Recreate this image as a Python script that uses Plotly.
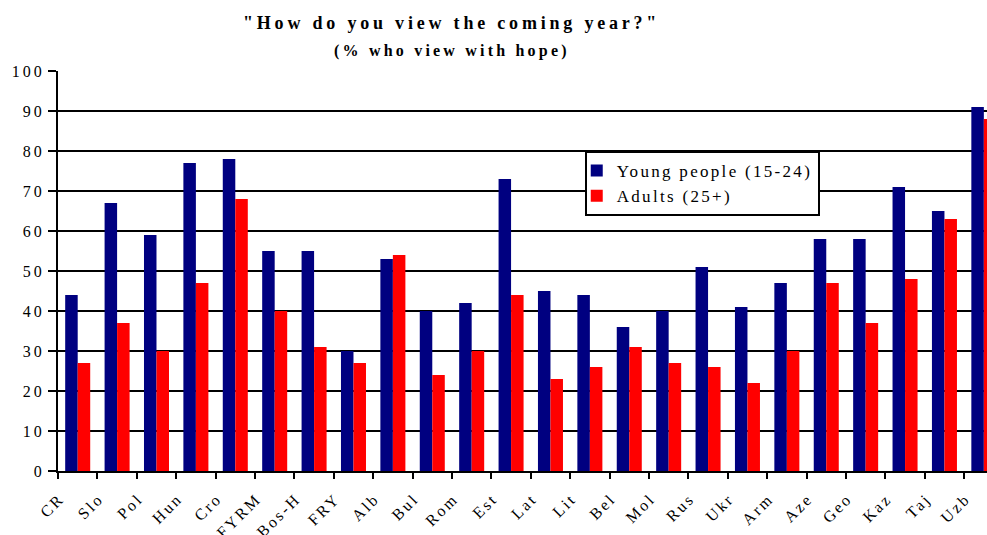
import plotly.graph_objects as go

categories = ["CR", "Slo", "Pol", "Hun", "Cro", "FYRM", "Bos-H", "FRY", "Alb", "Bul", "Rom", "Est",
              "Lat", "Lit", "Bel", "Mol", "Rus", "Ukr", "Arm", "Aze", "Geo", "Kaz", "Taj", "Uzb"]
young = [44, 67, 59, 77, 78, 55, 55, 30, 53, 40, 42, 73, 45, 44, 36, 40, 51, 41, 47, 58, 58, 71, 65, 91]
adults = [27, 37, 30, 47, 68, 40, 31, 27, 54, 24, 30, 44, 23, 26, 31, 27, 26, 22, 30, 47, 37, 48, 63, 88]
y_ticks = [0, 10, 20, 30, 40, 50, 60, 70, 80, 90, 100]
grid_vals = [10, 20, 30, 40, 50, 60, 70, 80, 90]

SERIF = "Liberation Serif"


def ls(text, px=2):
    return f'<span style="letter-spacing:{px}px">{text}</span>'


fig = go.Figure()
# invisible trace binding yaxis2 so its grid is drawn
fig.add_trace(go.Scatter(x=[categories[0]], y=[0], yaxis="y2", mode="markers",
                         marker=dict(opacity=0), showlegend=False, hoverinfo="skip"))
fig.add_trace(go.Bar(x=categories, y=young, name=ls("Young people (15-24)", 2.3),
                     marker=dict(color="#000080", line=dict(width=0))))
fig.add_trace(go.Bar(x=categories, y=adults, name=ls("Adults (25+)", 2.3),
                     marker=dict(color="#FF0000", line=dict(width=0))))

fig.update_layout(
    width=987, height=535,
    margin=dict(l=58, r=0, t=71, b=64),
    paper_bgcolor="white", plot_bgcolor="white",
    barmode="group", bargap=0.365, bargroupgap=0,
    font=dict(family=SERIF, size=16, color="black"),
    showlegend=True,
    legend=dict(x=0.567, y=0.80, xanchor="left", yanchor="top",
                bgcolor="white", bordercolor="black", borderwidth=2,
                font=dict(family=SERIF, size=17, color="black"),
                itemwidth=30, tracegroupgap=0, indentation=-10),
    xaxis=dict(type="category", range=[-0.5, 23.08], automargin=False,
               tickmode="array", tickvals=categories,
               ticktext=[ls(c, 2.5) for c in categories],
               tickangle=-45, tickson="boundaries",
               ticks="outside", ticklen=6, tickwidth=2, tickcolor="black",
               ticklabelshift=-18, ticklabelstandoff=10,
               showline=True, linecolor="black", linewidth=2,
               showgrid=False, tickfont=dict(family=SERIF, size=16, color="black")),
    yaxis=dict(range=[0, 100], tickmode="array", tickvals=y_ticks, automargin=False,
               ticktext=[ls(str(v), 3) for v in y_ticks],
               ticks="outside", ticklen=8, tickwidth=2, tickcolor="black",
               showline=True, linecolor="black", linewidth=2,
               showgrid=False, zeroline=False,
               tickfont=dict(family=SERIF, size=16, color="black")),
    yaxis2=dict(range=[0, 100], overlaying="y", tickmode="array", tickvals=grid_vals,
                automargin=False,
                showticklabels=False, ticks="", showgrid=True, gridcolor="black",
                gridwidth=2, zeroline=False, showline=False),
)

fig.add_annotation(text="<b>" + ls('"How do you view the coming year?"', 3.8) + "</b>",
                   xref="paper", yref="paper", x=0.424, y=1.12, xanchor="center", yanchor="middle",
                   showarrow=False, font=dict(family=SERIF, size=18, color="black"))
fig.add_annotation(text="<b>" + ls("(% who view with hope)", 3.2) + "</b>",
                   xref="paper", yref="paper", x=0.424, y=1.05, xanchor="center", yanchor="middle",
                   showarrow=False, font=dict(family=SERIF, size=16, color="black"))

fig.write_html("out.html", config={"displayModeBar": False},
               post_script="document.body.style.margin='0';document.body.style.overflow='hidden';")
